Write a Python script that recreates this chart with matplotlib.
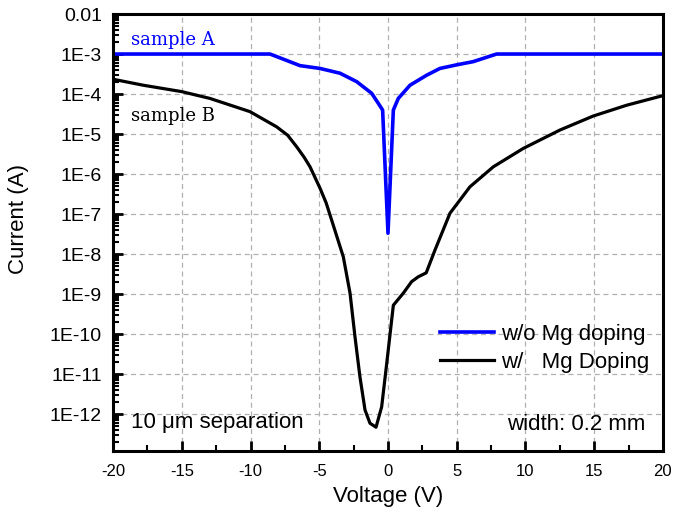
import numpy as np
import matplotlib.pyplot as plt
from matplotlib.ticker import FixedLocator, LogLocator, MultipleLocator, NullFormatter

plt.rcParams['font.family'] = ['Liberation Sans', 'DejaVu Sans']
plt.rcParams['axes.unicode_minus'] = False

# sample A: w/o Mg doping  (log10 of current)
va = [-20, -10.8, -8.58, -7.6, -6.4, -4.95, -3.49, -2.28, -1.19, -0.71, -0.39, 0.0,
      0.39, 0.75, 1.6, 2.81, 3.78, 5.0, 6.2, 7.9, 20]
ia_log = [-3.0, -3.0, -3.0, -3.13, -3.29, -3.36, -3.48, -3.69, -3.98, -4.23, -4.40, -7.48,
          -4.40, -4.11, -3.78, -3.53, -3.36, -3.27, -3.19, -3.0, -3.0]

# sample B: w/ Mg doping
vb = [-20, -17.8, -15.0, -12.95, -10.04, -8.1, -7.3, -6.64, -6.1, -5.67, -4.95, -4.5, -4.1,
      -3.25, -2.76, -2.4, -2.04, -1.67, -1.31, -0.87, -0.46, -0.09, 0.39, 1.11, 1.72, 2.2,
      2.78, 3.42, 4.51, 5.96, 7.66, 9.84, 12.51, 14.93, 17.36, 20]
ib_log = [-3.63, -3.78, -3.94, -4.11, -4.44, -4.82, -5.03, -5.32, -5.58, -5.82, -6.35, -6.72,
          -7.15, -8.07, -8.98, -10.07, -11.07, -11.9, -12.23, -12.33, -11.82, -10.73, -9.28,
          -8.98, -8.69, -8.57, -8.47, -7.9, -6.98, -6.32, -5.82, -5.36, -4.9, -4.55, -4.28, -4.04]

ia = 10.0 ** np.array(ia_log)
ib = 10.0 ** np.array(ib_log)

fig = plt.figure(figsize=(6.73, 5.18), dpi=100)
ax = fig.add_axes([0.168, 0.1293, 0.817, 0.8436])

ax.plot(va, ia, color='#0000ff', lw=2.6, label='w/o Mg doping')
ax.plot(vb, ib, color='black', lw=2.3, label='w/   Mg Doping')

ax.set_yscale('log')
ax.set_xlim(-20, 20)
ax.set_ylim(10 ** -12.925, 1e-2)

yt = [1e-2] + [10.0 ** -k for k in range(3, 13)]
ylab = ['0.01'] + ['1E-%d' % k for k in range(3, 13)]
ax.yaxis.set_major_locator(FixedLocator(yt))
ax.set_yticklabels(ylab)
ax.yaxis.set_minor_locator(LogLocator(base=10, subs=np.arange(2, 10), numticks=30))
ax.yaxis.set_minor_formatter(NullFormatter())
ax.xaxis.set_major_locator(MultipleLocator(5))
ax.xaxis.set_minor_locator(MultipleLocator(2.5))

ax.tick_params(which='major', direction='in', length=7, width=2, pad=8)
ax.tick_params(which='minor', direction='in', length=4, width=1.5)
ax.tick_params(axis='y', which='major', labelsize=14)
ax.tick_params(axis='x', which='major', labelsize=12, pad=9)
for s in ax.spines.values():
    s.set_linewidth(2.2)

ax.grid(True, which='major', ls=(0, (4, 3)), color='#b0b0b0', lw=0.9)

ax.set_xlabel('Voltage (V)', fontsize=16)
ax.set_ylabel('Current (A)', fontsize=16)
ax.xaxis.set_label_coords(0.5, -0.08)
ax.yaxis.set_label_coords(-0.153, 0.53)

ax.text(-18.7, 1e-3 * 10 ** 0.35, 'sample A', color='#0000ff', fontsize=13, family='DejaVu Serif', va='center')
ax.text(-18.7, 10 ** -4.55, 'sample B', color='black', fontsize=13, family='DejaVu Serif', va='center')
ax.text(-18.7, 10 ** -12.2, '10 μm separation', fontsize=16, va='center')
ax.text(18.7, 10 ** -12.25, 'width: 0.2 mm', fontsize=16, ha='right', va='center')

ax.legend(loc='upper left', bbox_to_anchor=(0.558, 0.336), frameon=False,
          fontsize=16, handlelength=2.45, handletextpad=0.3, labelspacing=0.3)

fig.savefig('out.png', dpi=100)
